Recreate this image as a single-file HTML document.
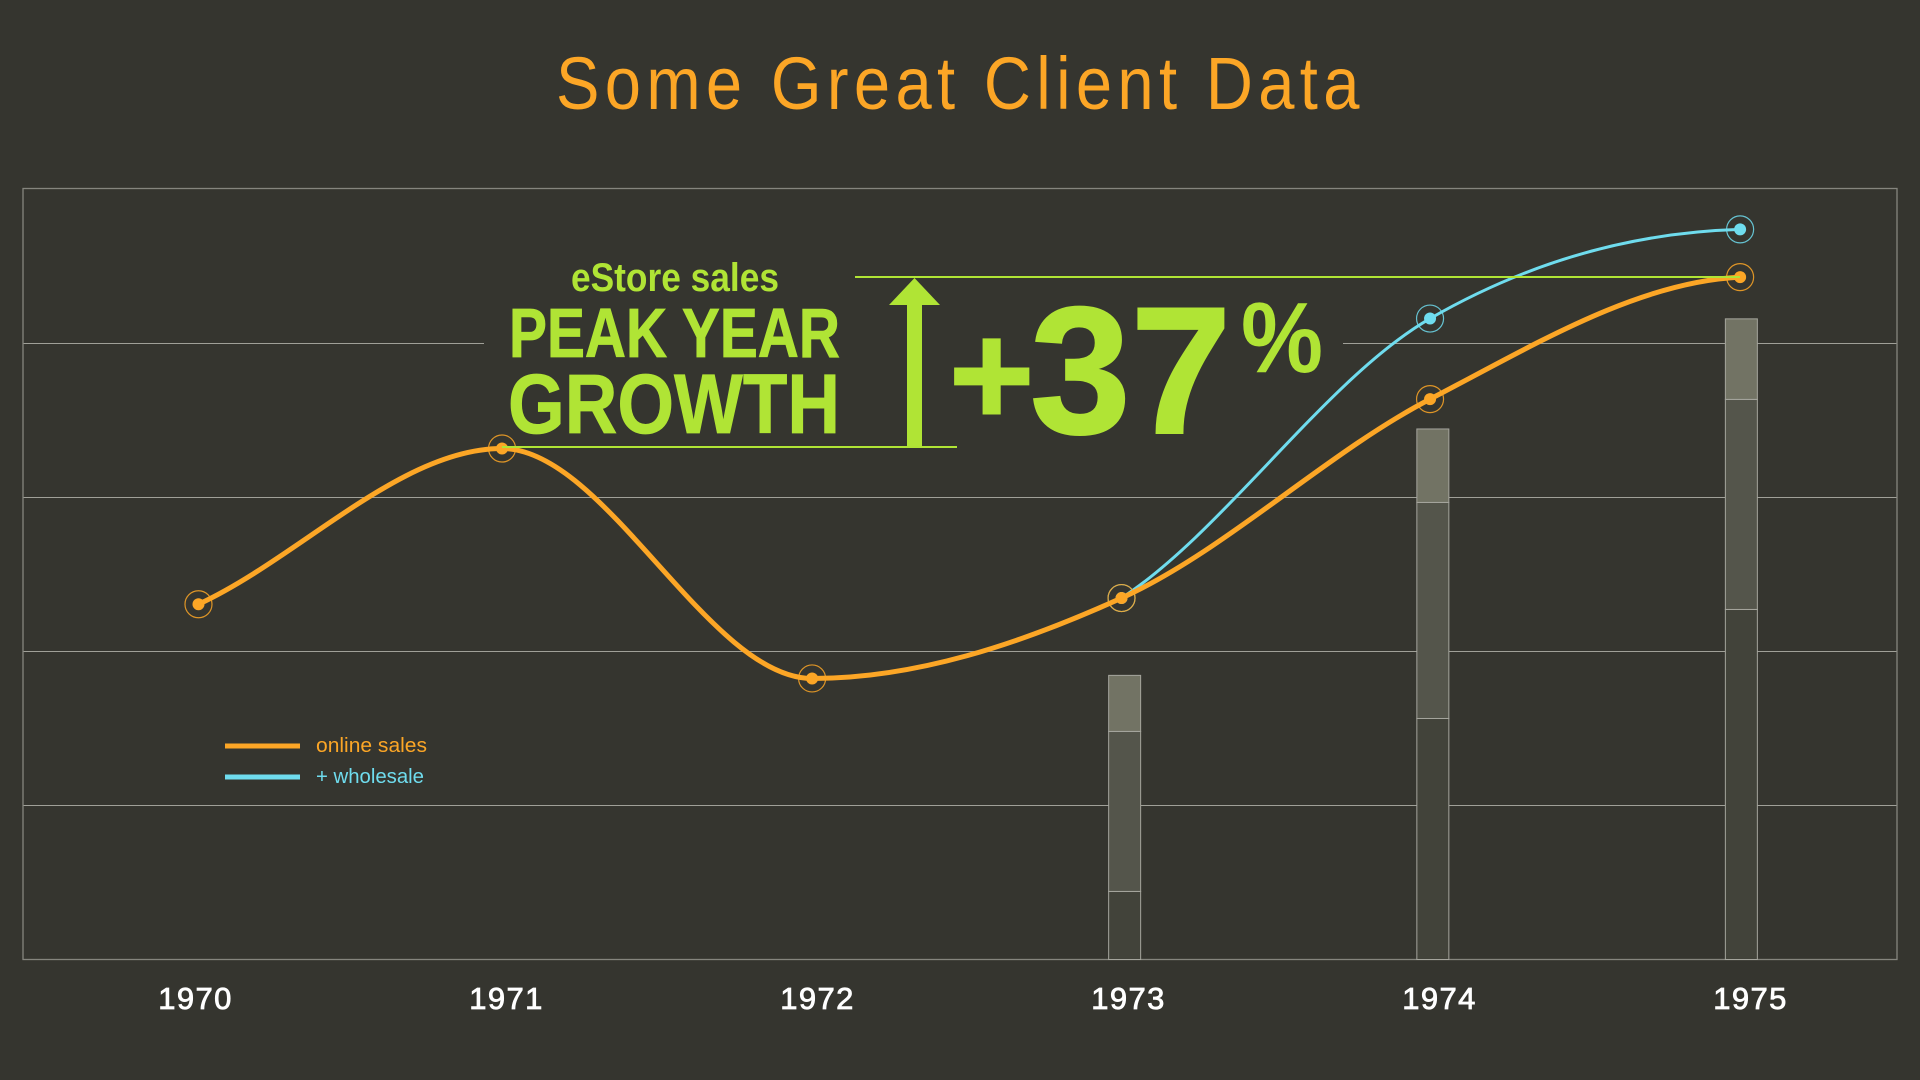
<!DOCTYPE html>
<html lang="en">
<head>
<meta charset="utf-8">
<title>Some Great Client Data</title>
<style>
html,body{margin:0;padding:0;background:#35352f;width:1920px;height:1080px;overflow:hidden}
svg{display:block}
text{font-family:"Liberation Sans",sans-serif}
</style>
</head>
<body>
<svg id="chart" xmlns="http://www.w3.org/2000/svg" width="1920" height="1080" viewBox="0 0 1920 1080">
  <rect width="1920" height="1080" fill="#35352f"/>
  <text transform="translate(556 109) scale(0.88 1)" x="0" y="0" font-size="74" fill="#fca626" textLength="913" lengthAdjust="spacing">Some Great Client Data</text>
  <g id="grid"></g>
  <rect x="23" y="188.5" width="1874" height="771" fill="none" stroke="#85857e" stroke-width="1.3"/>
  <rect x="484" y="338" width="859" height="10" fill="#35352f"/>
  <g id="bars"></g>
  <g id="x-axis"></g>
  <g id="lines"></g>
  <g fill="#b0e435">
    <rect x="855" y="276" width="885" height="2"/>
    <rect x="502" y="446" width="455" height="2"/>
    <rect x="907" y="304" width="15" height="143"/>
    <polygon points="914.5,278 940,305 889,305"/>
    <text x="571" y="291" font-size="40" font-weight="700" textLength="208" lengthAdjust="spacingAndGlyphs">eStore sales</text>
    <text x="509" y="357" font-size="70" font-weight="700" textLength="331" lengthAdjust="spacingAndGlyphs" stroke="#b0e435" stroke-width="0.8">PEAK YEAR</text>
    <text x="508" y="433" font-size="84" font-weight="700" textLength="332" lengthAdjust="spacingAndGlyphs" stroke="#b0e435" stroke-width="0.8">GROWTH</text>
    <text x="949" y="425" font-size="146" font-weight="700" stroke="#b0e435" stroke-width="2">+</text>
    <text x="1030" y="433" font-size="181" font-weight="700" stroke="#b0e435" stroke-width="2">37</text>
    <text x="1241" y="372" font-size="100" font-weight="700" textLength="82" lengthAdjust="spacingAndGlyphs">%</text>
  </g>
  <g id="legend">
    <g>
      <rect x="225" y="743.5" width="75" height="5" fill="#fca626"/>
      <text x="316" y="752" font-size="20" fill="#fca626" textLength="111" lengthAdjust="spacingAndGlyphs">online sales</text>
    </g>
    <g>
      <rect x="225" y="774.5" width="75" height="5" fill="#6fdcee"/>
      <text x="316" y="783" font-size="20" fill="#6fdcee" textLength="108" lengthAdjust="spacingAndGlyphs">+ wholesale</text>
    </g>
  </g>
</svg>
<script>
const categories = [1970, 1971, 1972, 1973, 1974, 1975];
const gridValues = [10, 20, 30, 40];
const onlineYears = [1970.008, 1970.984, 1971.981, 1972.976, 1973.968, 1974.965];
const onlineSales = [23.07, 33.18, 18.25, 23.47, 36.39, 44.31];
const wholesaleYears = [1972.976, 1973.968, 1974.965];
const wholesaleTotal = [23.47, 41.62, 47.41];
const barYears = [1972.986, 1973.977, 1974.969];
const barBase = [4.42, 15.65, 22.73];
const barMiddle = [10.39, 14.03, 13.64];
const barTop = [3.64, 4.77, 5.23];

const NS = 'http://www.w3.org/2000/svg';
function xScale(year) { return 196 + 311 * (year - 1970); }
function yScale(value) { return 959.5 - 15.4 * value; }
function make(tag, parent) {
  const el = document.createElementNS(NS, tag);
  parent.appendChild(el);
  return el;
}
function sign(v) { return v < 0 ? -1 : 1; }
function smoothPath(pts, startFactor, endFactor) {
  const n = pts.length;
  const t = new Array(n);
  const slope = (a, b) => (b[1] - a[1]) / ((b[0] - a[0]) || 1);
  for (let i = 1; i < n - 1; i++) {
    const h0 = pts[i][0] - pts[i - 1][0];
    const h1 = pts[i + 1][0] - pts[i][0];
    const s0 = slope(pts[i - 1], pts[i]);
    const s1 = slope(pts[i], pts[i + 1]);
    const p = (s0 * h1 + s1 * h0) / (h0 + h1);
    t[i] = (sign(s0) + sign(s1)) * Math.min(Math.abs(s0), Math.abs(s1), 0.5 * Math.abs(p)) || 0;
  }
  t[0] = slope(pts[0], pts[1]) * startFactor;
  t[n - 1] = slope(pts[n - 2], pts[n - 1]) * endFactor;
  let d = 'M' + pts[0][0] + ',' + pts[0][1];
  for (let i = 0; i < n - 1; i++) {
    const dx = (pts[i + 1][0] - pts[i][0]) / 3;
    d += 'C' + (pts[i][0] + dx) + ',' + (pts[i][1] + dx * t[i]) + ' ' +
         (pts[i + 1][0] - dx) + ',' + (pts[i + 1][1] - dx * t[i + 1]) + ' ' +
         pts[i + 1][0] + ',' + pts[i + 1][1];
  }
  return d;
}

const gridGroup = document.getElementById('grid');
gridValues.forEach(function (v) {
  const line = make('line', gridGroup);
  
  
  line.setAttribute('x1', 23);
  line.setAttribute('x2', 1897);
  line.setAttribute('y1', yScale(v));
  line.setAttribute('y2', yScale(v));
  line.setAttribute('stroke', '#a0a098');
  line.setAttribute('stroke-width', 1);
});

const barGroup = document.getElementById('bars');
const barFills = ['#42433a', '#54554b', '#727364'];
barYears.forEach(function (year, i) {
  const parts = [barBase[i], barMiddle[i], barTop[i]];
  let running = 0;
  parts.forEach(function (part, j) {
    const rect = make('rect', barGroup);
    
    
    rect.setAttribute('x', xScale(year) - 16);
    rect.setAttribute('width', 32);
    rect.setAttribute('y', yScale(running + part));
    rect.setAttribute('height', yScale(running) - yScale(running + part));
    rect.setAttribute('fill', barFills[j]);
    rect.setAttribute('stroke', '#a5a59d');
    rect.setAttribute('stroke-width', 1);
    running += part;
  });
});

const axisGroup = document.getElementById('x-axis');
categories.forEach(function (year) {
  const label = make('text', axisGroup);
  
  
  label.setAttribute('x', xScale(year) - 0.5);
  label.setAttribute('y', 1009);
  label.setAttribute('text-anchor', 'middle');
  label.setAttribute('font-size', 31);
  label.setAttribute('letter-spacing', 1.4);
  label.setAttribute('fill', '#ffffff');
  label.setAttribute('stroke', '#ffffff');
  label.setAttribute('stroke-width', 0.8);
  label.textContent = year;
});

const lineGroup = document.getElementById('lines');
function drawSeries(name, years, values, color, width, startFactor, endFactor) {
  const pts = years.map(function (year, i) { return [xScale(year), yScale(values[i])]; });
  const path = make('path', lineGroup);
  
  
  path.setAttribute('d', smoothPath(pts, startFactor, endFactor));
  path.setAttribute('fill', 'none');
  path.setAttribute('stroke', color);
  path.setAttribute('stroke-width', width);
  pts.forEach(function (p) {
    const ring = make('circle', lineGroup);
    
    
    ring.setAttribute('cx', p[0]);
    ring.setAttribute('cy', p[1]);
    ring.setAttribute('r', 13.5);
    ring.setAttribute('fill', 'none');
    ring.setAttribute('stroke', color);
    ring.setAttribute('stroke-opacity', 0.85);
    ring.setAttribute('stroke-width', 1.2);
    const dot = make('circle', lineGroup);
    
    
    dot.setAttribute('cx', p[0]);
    dot.setAttribute('cy', p[1]);
    dot.setAttribute('r', 6);
    dot.setAttribute('fill', color);
  });
}
drawSeries('wholesale', wholesaleYears, wholesaleTotal, '#6fdcee', 3, 0.72, 0.1);
drawSeries('online-sales', onlineYears, onlineSales, '#fca626', 5, 0.9, 0.12);
</script>
</body>
</html>
